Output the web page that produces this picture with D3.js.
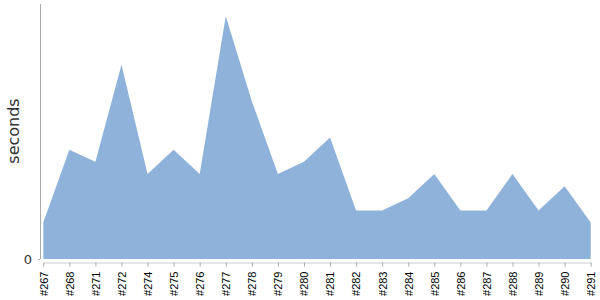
<html>
<script src="https://d3js.org/d3.v7.min.js"></script>
<style>
  body {margin: 0; background: #fff;}
</style>
<body>
<svg width="600" height="300"></svg>
<script>
var builds = ["#267","#268","#271","#272","#274","#275","#276","#277","#278","#279","#280",
              "#281","#282","#283","#284","#285","#286","#287","#288","#289","#290","#291"];
var seconds = [3,9,8,16,7,9,7,20,13,7,8,10,4,4,5,7,4,4,7,4,6,3];
var yTicks = [0];

var svg = d3.select("svg");
var x = d3.scalePoint().domain(builds).range([43.3, 590.7]);
var y = d3.scaleLinear().domain([0, 21]).range([259, 4]);

var area = d3.area()
  .x(function(d, i){ return x(builds[i]); })
  .y0(y(0))
  .y1(function(d){ return y(d); });

svg.append("path").datum(seconds)
  .attr("d", area)
  .attr("fill", "#8eb2da");

// y axis
var yAxis = svg.append("g").attr("transform", "translate(40,0)")
  .call(d3.axisLeft(y).tickValues(yTicks).tickSize(2).tickPadding(6));
yAxis.select(".domain").attr("stroke", "#aaa").attr("d", "M0.5," + y(21) + "V" + y(0));
yAxis.selectAll(".tick line").attr("stroke", "#aaa");
yAxis.selectAll(".tick text").attr("fill", "#333")
  .style("font-size", "13px").style("font-family", "'DejaVu Sans', sans-serif");

// x axis
var xAxis = svg.append("g").attr("transform", "translate(0,262.5)")
  .call(d3.axisBottom(x).tickSize(4).tickSizeOuter(0));
xAxis.select(".domain").attr("stroke", "#ccc");
xAxis.selectAll(".tick line").attr("stroke", "#aaa");
xAxis.selectAll(".tick text")
  .style("font-size", "11px").style("font-family", "'Liberation Sans', Arial, sans-serif")
  .attr("fill", "#000")
  .attr("text-anchor", "end")
  .attr("dy", "0.35em")
  .attr("transform", "translate(0,6) rotate(-90)")
  .attr("x", -3).attr("y", 0);

svg.append("text")
  .attr("transform", "translate(19,131) rotate(-90)")
  .attr("text-anchor", "middle")
  .attr("fill", "#333")
  .style("font-size", "16px").style("font-family", "'DejaVu Sans', sans-serif")
  .text("seconds");
</script>
</body>
</html>
